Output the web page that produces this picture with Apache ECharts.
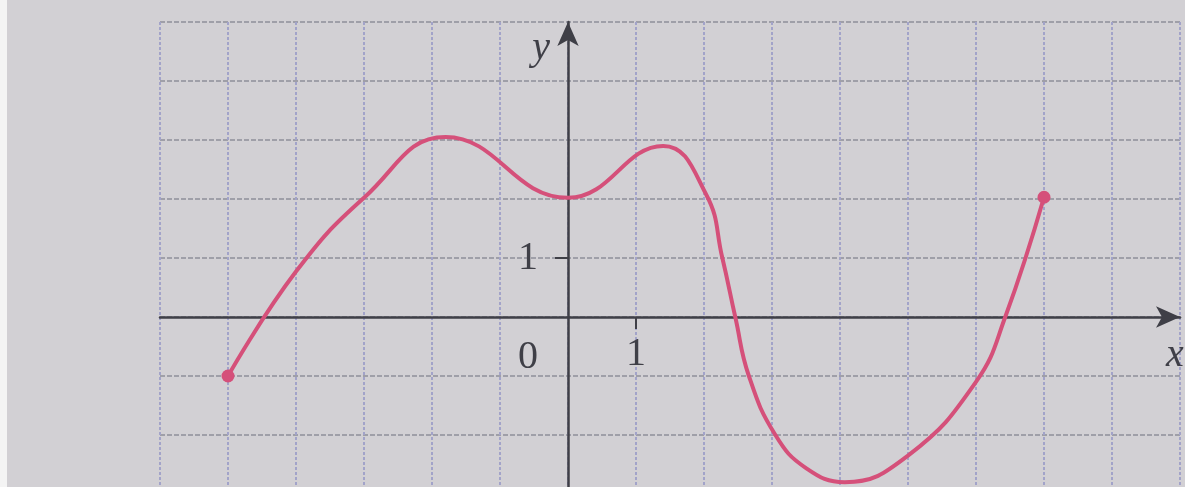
<!DOCTYPE html>
<html>
<head>
<meta charset="utf-8">
<script src="https://cdn.jsdelivr.net/npm/echarts@6/dist/echarts.min.js"></script>
<style>
  html, body { margin: 0; padding: 0; background: #d2d0d4; }
  #chart { width: 1185px; height: 487px; }
</style>
</head>
<body>
<div id="chart"></div>
<script>
// key points of the curve (1 cell = 1 unit)
const curveX = [-5, -4, -3, -1.8, 0, 1.4, 2.03, 2.27, 2.46, 2.66, 3.05, 3.5, 4.07, 5, 6, 6.43, 7]
const curveY = [-1, 0.77, 2.02, 3.05, 2.02, 2.9, 2.08, 1, 0, -1, -2, -2.56, -2.8, -2.35, -1.1, 0, 2.03]
const xTickLabels = [1]
const yTickLabels = [1]
const originLabel = '0'

const RED = '#d5507a'
const INK = '#3f3f47'
const SERIF = 'Liberation Serif'
const FONT = `40px "${SERIF}"`

const chart = echarts.init(document.getElementById('chart'))

const last = curveX.length - 1
const curveData = curveX.map((x, i) => {
  const end = i === 0 || i === last
  return {
    value: [x, curveY[i]],
    symbol: end ? 'circle' : 'none',
    symbolSize: end ? 13 : 0
  }
})

const nameStyle = { fontFamily: SERIF, fontStyle: 'italic', fontSize: 40, color: INK }
const axisLine = {
  onZero: true,
  symbol: ['none', 'arrow'],
  symbolSize: [16, 24],
  lineStyle: { color: INK, width: 2.5 }
}

chart.setOption({
  backgroundColor: '#d2d0d4',
  animation: false,
  grid: { left: 160, right: 5, top: 22, bottom: -7, outerBoundsMode: 'none' },
  xAxis: [
    // paper grid
    {
      type: 'value', min: -6, max: 9, interval: 1, position: 'bottom',
      axisLine: { show: false }, axisTick: { show: false }, axisLabel: { show: false },
      splitLine: { show: true, lineStyle: { color: '#a2a3c9', width: 2, type: [3, 2] } }
    },
    // drawn x axis
    {
      type: 'value', min: -6, max: 9, interval: 1, position: 'bottom',
      name: 'x', nameLocation: 'end', nameGap: -14,
      nameTextStyle: { ...nameStyle, align: 'left', verticalAlign: 'top', padding: [18, 0, 0, 0] },
      axisLine: axisLine,
      axisTick: { customValues: xTickLabels, length: 12, lineStyle: { color: INK, width: 2 } },
      axisLabel: { show: false },
      splitLine: { show: false }
    }
  ],
  yAxis: [
    {
      type: 'value', min: -3, max: 5, interval: 1, position: 'left',
      axisLine: { show: false }, axisTick: { show: false }, axisLabel: { show: false },
      splitLine: { show: true, lineStyle: { color: '#8e8f99', width: 1.5, type: [5, 2] } }
    },
    {
      type: 'value', min: -3, max: 5, interval: 1, position: 'left',
      name: 'y', nameLocation: 'end', nameGap: -6,
      nameTextStyle: { ...nameStyle, align: 'right', verticalAlign: 'top', padding: [0, 18, 0, 0] },
      axisLine: axisLine,
      axisTick: { customValues: yTickLabels, length: 13, lineStyle: { color: INK, width: 2 } },
      axisLabel: { show: false },
      splitLine: { show: false }
    }
  ],
  series: [{
    type: 'line',
    xAxisIndex: 0,
    yAxisIndex: 0,
    data: curveData,
    smooth: 0.45,
    showSymbol: true,
    symbol: 'none',
    itemStyle: { color: RED },
    lineStyle: { color: RED, width: 4 },
    z: 5
  }]
})

// tick labels sit on the zero lines, so place them by hand from the scale
const label = (text, p) => ({
  type: 'text', x: p[0], y: p[1], z: 10,
  style: { text: String(text), font: FONT, fill: INK, align: 'center', verticalAlign: 'middle' }
})
const o = chart.convertToPixel({ gridIndex: 0 }, [0, 0])
const texts = [label(originLabel, [o[0] - 40, o[1] + 40])]
xTickLabels.forEach(v => {
  const p = chart.convertToPixel({ gridIndex: 0 }, [v, 0])
  texts.push(label(v, [p[0], p[1] + 37]))
})
yTickLabels.forEach(v => {
  const p = chart.convertToPixel({ gridIndex: 0 }, [0, v])
  texts.push(label(v, [p[0] - 40, p[1]]))
})

chart.setOption({
  graphic: [
    { type: 'rect', shape: { x: 0, y: 0, width: 7, height: 487 }, style: { fill: '#f4f4f4' }, z: -1 },
    ...texts
  ]
})
</script>
</body>
</html>
